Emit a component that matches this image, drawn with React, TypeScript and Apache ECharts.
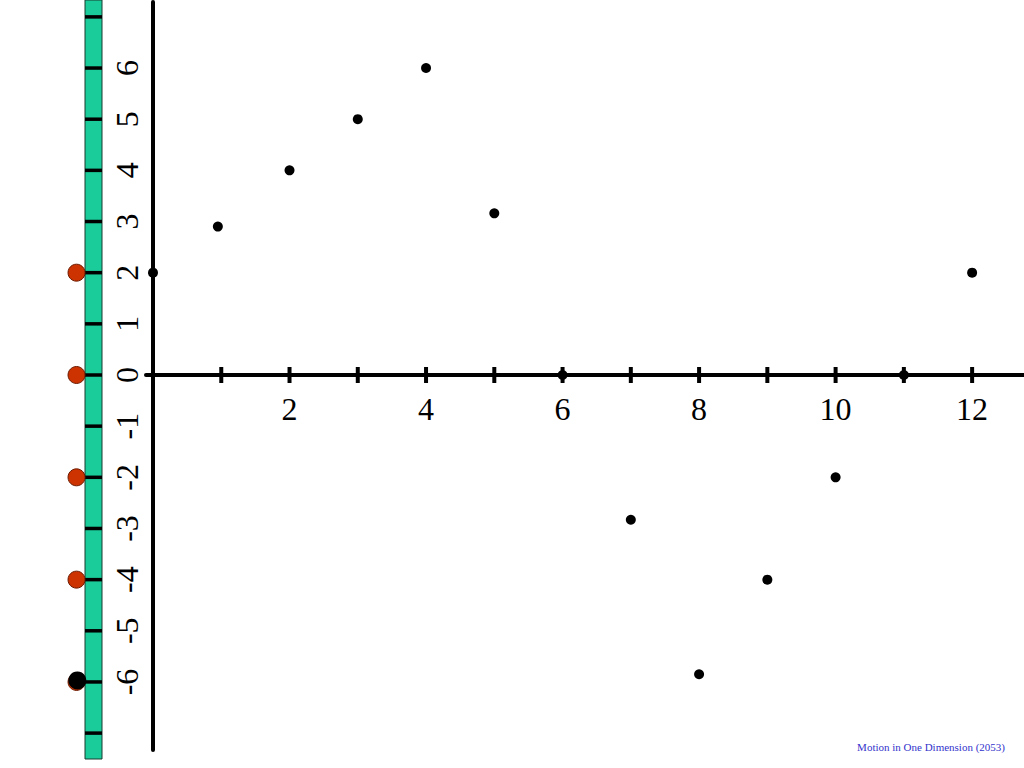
import React, { useEffect, useRef } from "react";
import * as echarts from "echarts";

const pointX = [0, 0.95, 2, 3, 4, 5, 6, 7, 8, 9, 10, 11, 12];
const pointY = [2, 2.9, 4, 5, 6, 3.16, 0, -2.83, -5.85, -4, -2, 0, 2];
const xTickValues = [1, 2, 3, 4, 5, 6, 7, 8, 9, 10, 11, 12];
const xLabelValues = [2, 4, 6, 8, 10, 12];
const yLabelValues = [-6, -5, -4, -3, -2, -1, 0, 1, 2, 3, 4, 5, 6];
const stripTickValues = [-7, -6, -5, -4, -3, -2, -1, 0, 1, 2, 3, 4, 5, 6, 7];
const redPositions = [2, 0, -2, -4, -6];
const blackPositions = [-6];
const footer = "Motion in One Dimension (2053)";

const SERIF = "'Liberation Serif', 'Times New Roman', serif";
const X_MIN = -0.1026;
const X_MAX = 12.76;

export default function App() {
  const ref = useRef<HTMLDivElement>(null);
  useEffect(() => {
    if (!ref.current) return;
    const chart = echarts.init(ref.current, null, { renderer: "svg" });
    chart.setOption({
      animation: false,
      backgroundColor: "#ffffff",
      grid: [
        { left: 146, right: 0, top: 2, bottom: 18, show: false, outerBoundsMode: "none", containLabel: false },
        {
          left: 85,
          width: 17,
          top: 0,
          bottom: 9,
          show: true,
          outerBoundsMode: "none",
          containLabel: false,
          backgroundColor: "#19CC99",
          borderColor: "#1a3a30",
          borderWidth: 1,
        },
        // upper half of the plot, whose bottom edge is the zero line: carries the x labels
        { left: 146, right: 0, top: 2, height: 373, show: false, outerBoundsMode: "none", containLabel: false },
      ],
      xAxis: [
        {
          type: "value",
          gridIndex: 0,
          min: X_MIN,
          max: X_MAX,
          axisLine: { show: true, onZero: true, lineStyle: { color: "#000", width: 4 } },
          axisTick: { show: false },
          splitLine: { show: false },
          axisLabel: { show: false },
        },
        { type: "value", gridIndex: 1, min: 0, max: 1, show: false },
        {
          type: "value",
          gridIndex: 2,
          position: "bottom",
          min: X_MIN,
          max: X_MAX,
          axisLine: { show: false },
          axisTick: { show: false },
          splitLine: { show: false },
          axisLabel: {
            customValues: xLabelValues,
            fontSize: 32,
            fontFamily: SERIF,
            color: "#000",
            margin: 18,
          },
        },
      ],
      yAxis: [
        {
          type: "value",
          gridIndex: 0,
          min: -7.33,
          max: 7.29,
          axisLine: { show: true, onZero: true, lineStyle: { color: "#000", width: 4 } },
          axisTick: { show: false },
          splitLine: { show: false },
          axisLabel: {
            customValues: yLabelValues,
            rotate: 90,
            fontSize: 32,
            fontFamily: SERIF,
            color: "#000",
            margin: 3,
          },
        },
        { type: "value", gridIndex: 1, min: -7.506, max: 7.33, show: false },
        { type: "value", gridIndex: 2, min: 0, max: 1, show: false },
      ],
      series: [
        {
          type: "scatter",
          xAxisIndex: 0,
          yAxisIndex: 0,
          symbol: "rect",
          symbolSize: [4, 16],
          itemStyle: { color: "#000", opacity: 1 },
          data: xTickValues.map((v) => [v, 0]),
          silent: true,
        },
        {
          type: "scatter",
          xAxisIndex: 0,
          yAxisIndex: 0,
          symbolSize: 10,
          itemStyle: { color: "#000", opacity: 1 },
          data: pointX.map((x, i) => [x, pointY[i]]),
          clip: false,
        },
        {
          type: "scatter",
          xAxisIndex: 1,
          yAxisIndex: 1,
          symbol: "rect",
          symbolSize: [17, 3.5],
          itemStyle: { color: "#000", opacity: 1 },
          data: stripTickValues.map((v) => [0.5, v]),
          silent: true,
        },
        {
          type: "scatter",
          xAxisIndex: 1,
          yAxisIndex: 1,
          symbolSize: 17,
          clip: false,
          itemStyle: { color: "#CC3300", borderColor: "#6b1a00", borderWidth: 1, opacity: 1 },
          data: redPositions.map((v) => [-0.5, v]),
        },
        {
          type: "scatter",
          xAxisIndex: 1,
          yAxisIndex: 1,
          symbolSize: 18,
          clip: false,
          itemStyle: { color: "#000", opacity: 1 },
          data: blackPositions.map((v) => [-0.45, v + 0.03]),
        },
      ],
      graphic: [
        {
          type: "text",
          right: 19,
          top: 741,
          style: {
            text: footer,
            fontSize: 11,
            fontFamily: SERIF,
            fill: "#3333cc",
          },
        },
      ],
    });
    return () => chart.dispose();
  }, []);
  return (
    <div
      ref={ref}
      style={{ position: "absolute", left: 0, top: 0, width: 1024, height: 768 }}
    />
  );
}
